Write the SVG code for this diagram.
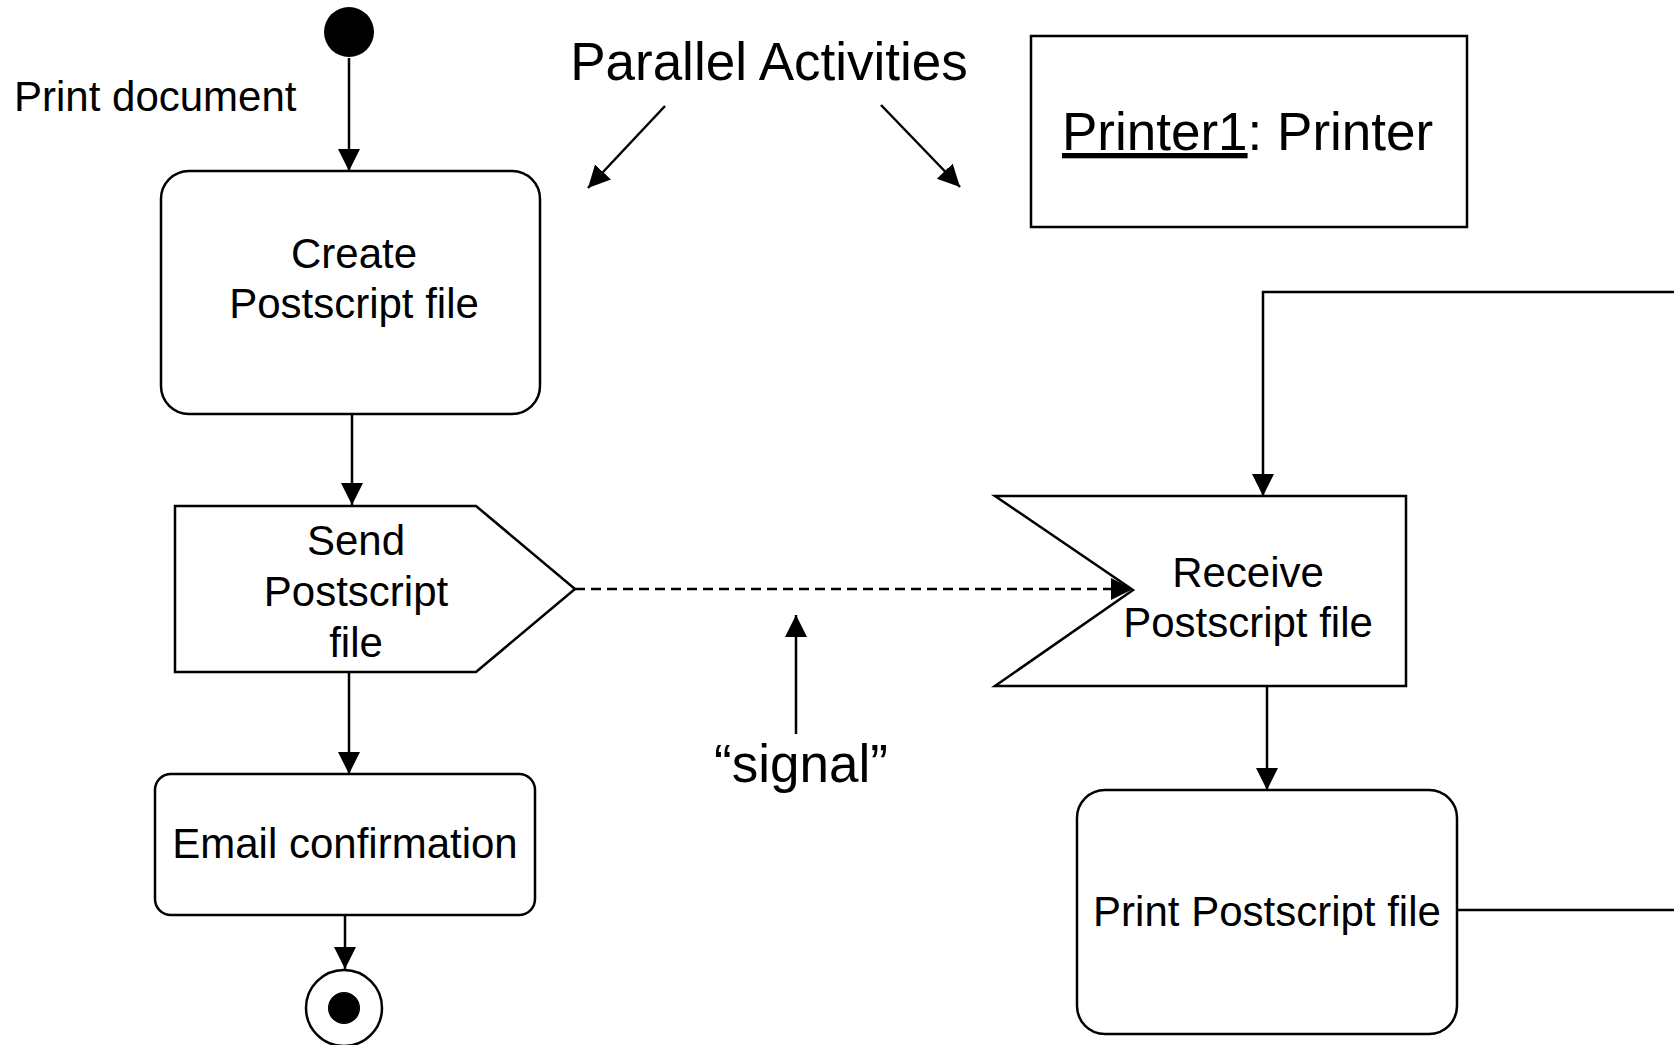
<svg xmlns="http://www.w3.org/2000/svg" width="1674" height="1045" viewBox="0 0 1674 1045">
<style>
.shape{fill:#fff;stroke:#000;stroke-width:2.5}
.conn{fill:none;stroke:#000;stroke-width:2.5}
.dash{stroke-dasharray:10 6}
.t{font-family:"Liberation Sans",Arial,Helvetica,sans-serif;font-size:42px;fill:#000}
.big{font-size:53px}
.c{text-anchor:middle}
</style>
<defs>
<marker id="arr" markerUnits="userSpaceOnUse" markerWidth="24" markerHeight="24" refX="22" refY="11" orient="auto">
<path d="M0,0 L22,11 L0,22 z" fill="#000"/>
</marker>
</defs>
<rect width="1674" height="1045" fill="#fff"/>
<g id="connectors">
<line class="conn" x1="349" y1="58" x2="349" y2="171" marker-end="url(#arr)"/>
<line class="conn" x1="352" y1="414" x2="352" y2="505" marker-end="url(#arr)"/>
<line class="conn" x1="349" y1="673" x2="349" y2="774" marker-end="url(#arr)"/>
<line class="conn" x1="345" y1="915" x2="345" y2="969" marker-end="url(#arr)"/>
<line class="conn dash" x1="575" y1="589" x2="1133" y2="589" marker-end="url(#arr)"/>
<line class="conn" x1="1267" y1="686" x2="1267" y2="790" marker-end="url(#arr)"/>
<path class="conn" d="M1457,910 H1700 V292 H1263 V496" marker-end="url(#arr)"/>
<line class="conn" x1="665" y1="106" x2="588" y2="188" marker-end="url(#arr)"/>
<line class="conn" x1="881" y1="105" x2="960" y2="187" marker-end="url(#arr)"/>
<line class="conn" x1="796" y1="734" x2="796" y2="615" marker-end="url(#arr)"/>
</g>
<g id="start">
<circle cx="349" cy="32" r="25" fill="#000"/>
</g>
<g id="label-print-document">
<text class="t" x="14" y="111">Print document</text>
</g>
<g id="label-parallel">
<text class="t big c" x="769" y="80">Parallel Activities</text>
</g>
<g id="printer">
<rect class="shape" x="1031" y="36" width="436" height="191"/>
<text class="t big" x="1062" y="150"><tspan text-decoration="underline">Printer1</tspan>: Printer</text>
</g>
<g id="create">
<rect class="shape" x="161" y="171" width="379" height="243" rx="28"/>
<text class="t c" x="354" y="268">Create</text>
<text class="t c" x="354" y="318">Postscript file</text>
</g>
<g id="send">
<polygon class="shape" points="175,506 476,506 575,589 476,672 175,672"/>
<text class="t c" x="356" y="555">Send</text>
<text class="t c" x="356" y="606">Postscript</text>
<text class="t c" x="356" y="657">file</text>
</g>
<g id="email">
<rect class="shape" x="155" y="774" width="380" height="141" rx="16"/>
<text class="t c" x="345" y="858">Email confirmation</text>
</g>
<g id="end">
<circle class="shape" cx="344" cy="1008" r="38"/>
<circle cx="344" cy="1008" r="16" fill="#000"/>
</g>
<g id="receive">
<polygon class="shape" points="995,496 1406,496 1406,686 995,686 1133,590"/>
<text class="t c" x="1248" y="587">Receive</text>
<text class="t c" x="1248" y="637">Postscript file</text>
</g>
<g id="print">
<rect class="shape" x="1077" y="790" width="380" height="244" rx="28"/>
<text class="t c" x="1267" y="926">Print Postscript file</text>
</g>
<g id="label-signal">
<text class="t big c" x="801" y="782">“signal”</text>
</g>
</svg>
